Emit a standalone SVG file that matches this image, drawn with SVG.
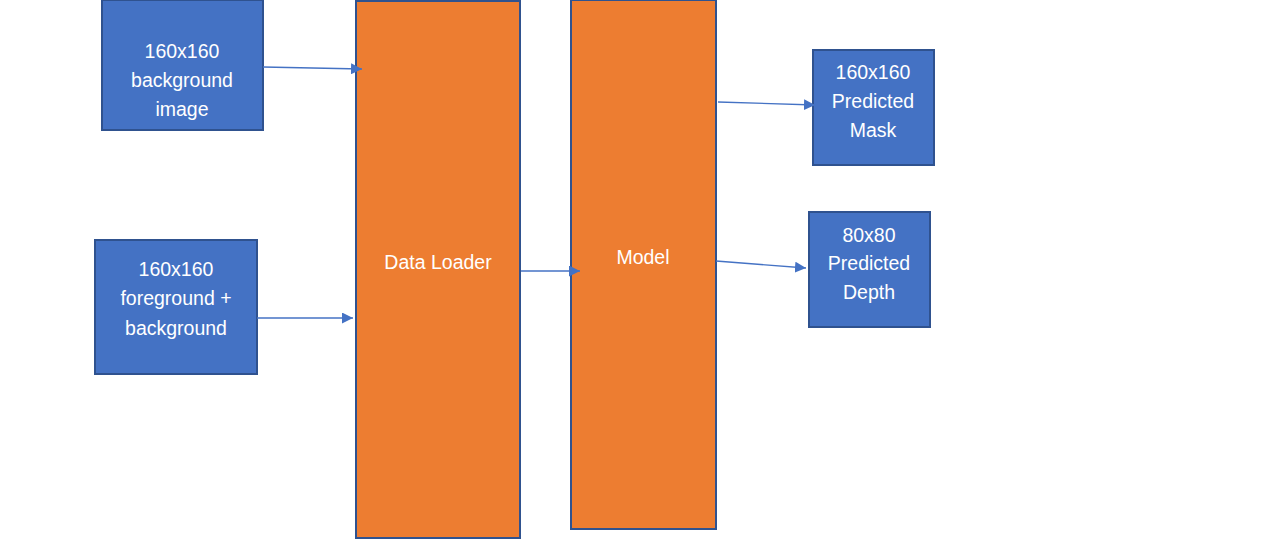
<svg xmlns="http://www.w3.org/2000/svg" width="1267" height="543" viewBox="0 0 1267 543">
<style>
.blue{fill:#4472C4;stroke:#2F528F;stroke-width:2}
.orange{fill:#ED7D31;stroke:#2F528F;stroke-width:2}
.t{fill:#FFFFFF;font-family:"Liberation Sans",Arial,sans-serif;font-size:19.5px;text-anchor:middle}
.c{stroke:#4472C4;stroke-width:1.3;fill:none;marker-end:url(#ah)}
</style>
<defs>
<marker id="ah" markerUnits="userSpaceOnUse" markerWidth="12" markerHeight="11" refX="11" refY="5.5" orient="auto">
<path d="M0,0 L11,5.5 L0,11 Z" fill="#4472C4"/>
</marker>
</defs>
<rect width="1267" height="543" fill="#FFFFFF"/>
<g id="bg-image">
<rect class="blue" x="102" y="0" width="161" height="130"/>
<text class="t" x="182" y="58">160x160</text>
<text class="t" x="182" y="87">background</text>
<text class="t" x="182" y="116">image</text>
</g>
<g id="fg-bg">
<rect class="blue" x="95" y="240" width="162" height="134"/>
<text class="t" x="176" y="276">160x160</text>
<text class="t" x="176" y="305">foreground +</text>
<text class="t" x="176" y="335">background</text>
</g>
<g id="data-loader">
<rect class="orange" x="356" y="1" width="164" height="537"/>
<text class="t" x="438" y="269">Data Loader</text>
</g>
<g id="model">
<rect class="orange" x="571" y="0" width="145" height="529"/>
<text class="t" x="643" y="264">Model</text>
</g>
<g id="mask">
<rect class="blue" x="813" y="50" width="121" height="115"/>
<text class="t" x="873" y="79">160x160</text>
<text class="t" x="873" y="108">Predicted</text>
<text class="t" x="873" y="137">Mask</text>
</g>
<g id="depth">
<rect class="blue" x="809" y="212" width="121" height="115"/>
<text class="t" x="869" y="242">80x80</text>
<text class="t" x="869" y="270">Predicted</text>
<text class="t" x="869" y="299">Depth</text>
</g>
<g id="connectors">
<line class="c" x1="263" y1="67" x2="362" y2="69"/>
<line class="c" x1="257" y1="318" x2="353" y2="318"/>
<line class="c" x1="521" y1="271" x2="580" y2="271"/>
<line class="c" x1="718" y1="102" x2="815" y2="105"/>
<line class="c" x1="716" y1="261" x2="806" y2="268"/>
</g>
</svg>
